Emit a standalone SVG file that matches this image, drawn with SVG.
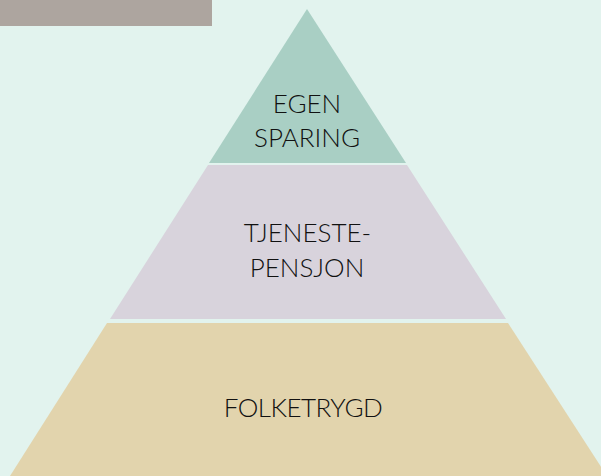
<svg xmlns="http://www.w3.org/2000/svg" width="601" height="476" viewBox="0 0 601 476">
<style>
.lbl{font-family:Lato,"Open Sans","DejaVu Sans",sans-serif;font-weight:300;font-size:26px;fill:#111111;text-anchor:middle}
</style>
<rect x="0" y="0" width="601" height="476" fill="#e2f3ee"/>
<rect x="0" y="0" width="212" height="26" fill="#ada59f"/>
<g id="egen-sparing">
<polygon points="307,9 406,163 209,163" fill="#a9cfc4"/>
<text class="lbl" x="307" y="113">EGEN</text>
<text class="lbl" x="307" y="147">SPARING</text>
</g>
<g id="tjenestepensjon">
<polygon points="208,165 407,165 506,319 110,319" fill="#d8d3dc"/>
<text class="lbl" x="307.5" y="242">TJENESTE-</text>
<text class="lbl" x="307" y="277">PENSJON</text>
</g>
<g id="folketrygd">
<polygon points="107,323 508,323 607,476 10,476" fill="#e2d4ad"/>
<text class="lbl" x="303" y="417" style="letter-spacing:-0.5px">FOLKETRYGD</text>
</g>
<g id="connectors"></g>
</svg>
